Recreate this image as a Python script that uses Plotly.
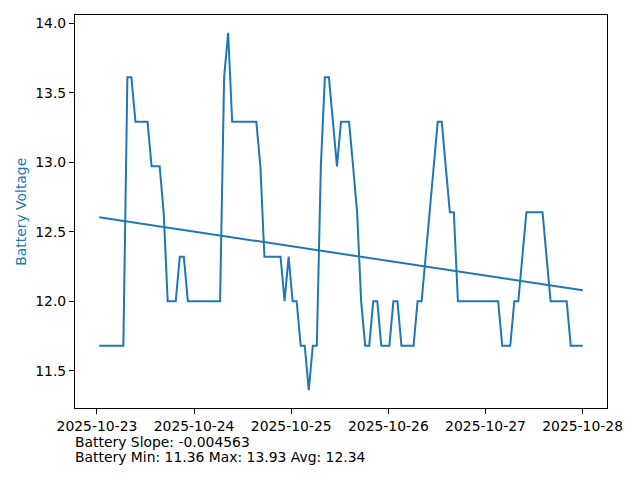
import numpy as np
import pandas as pd
import plotly.graph_objects as go

# Hourly battery voltage readings, 2025-10-23 00:33 .. 2025-10-28 00:03
start_time = "2025-10-23 00:33"
end_time = "2025-10-28 00:03"
voltage = [
    11.68, 11.68, 11.68, 11.68, 11.68, 11.68, 11.68, 13.61, 13.61, 13.29,
    13.29, 13.29, 13.29, 12.97, 12.97, 12.97, 12.64, 12.00, 12.00, 12.00,
    12.32, 12.32, 12.00, 12.00, 12.00, 12.00, 12.00, 12.00, 12.00, 12.00,
    12.00, 13.61, 13.93, 13.29, 13.29, 13.29, 13.29, 13.29, 13.29, 13.29,
    12.97, 12.32, 12.32, 12.32, 12.32, 12.32, 12.00, 12.32, 12.00, 12.00,
    11.68, 11.68, 11.36, 11.68, 11.68, 12.97, 13.61, 13.61, 13.29, 12.97,
    13.29, 13.29, 13.29, 12.97, 12.64, 12.00, 11.68, 11.68, 12.00, 12.00,
    11.68, 11.68, 11.68, 12.00, 12.00, 11.68, 11.68, 11.68, 11.68, 12.00,
    12.00, 12.32, 12.64, 12.97, 13.29, 13.29, 12.97, 12.64, 12.64, 12.00,
    12.00, 12.00, 12.00, 12.00, 12.00, 12.00, 12.00, 12.00, 12.00, 12.00,
    11.68, 11.68, 11.68, 12.00, 12.00, 12.32, 12.64, 12.64, 12.64, 12.64,
    12.64, 12.32, 12.00, 12.00, 12.00, 12.00, 12.00, 11.68, 11.68, 11.68,
    11.68,
]
x_ticks = ["2025-10-23", "2025-10-24", "2025-10-25", "2025-10-26", "2025-10-27", "2025-10-28"]
y_ticks = [11.5, 12.0, 12.5, 13.0, 13.5, 14.0]
info_lines = ["Battery Slope: -0.004563", "Battery Min: 11.36 Max: 13.93 Avg: 12.34"]

times = pd.date_range(start_time, end_time, periods=len(voltage))
hours = (times - times[0]).total_seconds() / 3600.0
coef = np.polyfit(hours, voltage, 1)
trend = np.polyval(coef, hours)

blue = "#1f77b4"
fig = go.Figure()
fig.add_trace(go.Scatter(x=times, y=voltage, mode="lines",
                         line=dict(color=blue, width=2), showlegend=False))
fig.add_trace(go.Scatter(x=[times[0], times[-1]], y=[trend[0], trend[-1]], mode="lines",
                         line=dict(color=blue, width=2), showlegend=False))

t0, t1 = times[0], times[-1]
span = t1 - t0
ymin, ymax = min(voltage), max(voltage)
yr = ymax - ymin

font = dict(family="DejaVu Sans", size=13.9, color="black")
fig.update_layout(
    width=640, height=480,
    margin=dict(l=67, r=41, t=7, b=80),
    paper_bgcolor="white", plot_bgcolor="white",
    font=font,
    xaxis=dict(range=[t0 - span * 0.05, t1 + span * 0.05],
               tickvals=pd.to_datetime(x_ticks), ticktext=x_ticks,
               showgrid=False, zeroline=False, showline=True, linecolor="black",
               linewidth=1, mirror=True, ticks="outside", ticklen=5,
               tickcolor="black", tickfont=font, automargin=False),
    yaxis=dict(range=[ymin - yr * 0.05, ymax + yr * 0.05],
               tickvals=y_ticks, ticktext=[f"{v:.1f}" for v in y_ticks],
               showgrid=False, zeroline=False, showline=True, linecolor="black",
               linewidth=1, mirror=True, ticks="outside", ticklen=5,
               tickcolor="black", tickfont=font, automargin=False),
)
fig.add_annotation(text="Battery Voltage", xref="paper", yref="paper", x=-0.103, y=0.5,
                   xanchor="center", yanchor="middle", textangle=-90, showarrow=False,
                   font=dict(family="DejaVu Sans", size=13.9, color=blue))
for i, txt in enumerate(info_lines):
    fig.add_annotation(text=txt, xref="paper", yref="paper", x=0, y=-0.086 - i * 0.039,
                       xanchor="left", yanchor="middle", showarrow=False, font=font,
                       xshift=-2)

fig.write_html("out.html")
